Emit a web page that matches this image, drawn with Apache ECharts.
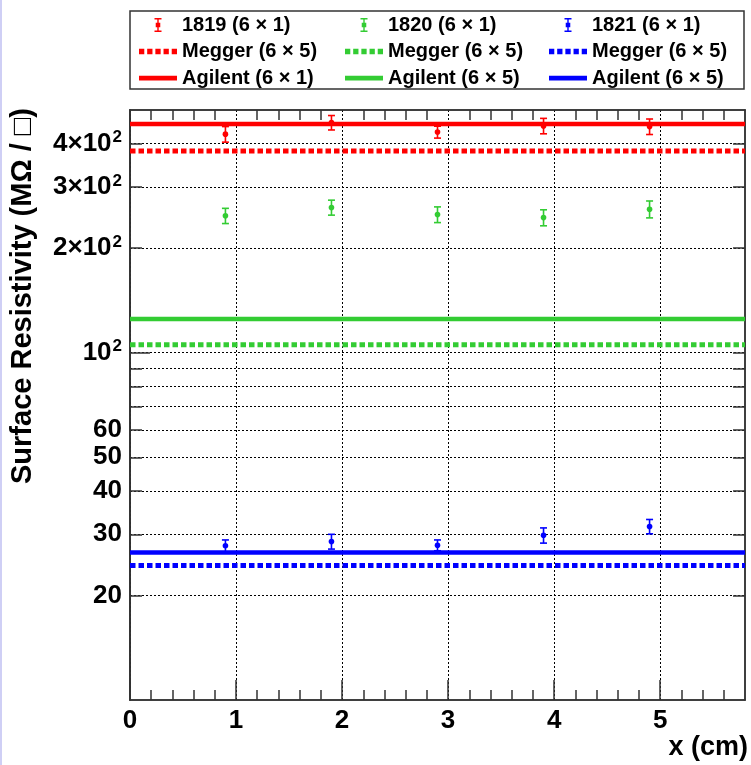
<!DOCTYPE html>
<html>
<head>
<meta charset="utf-8">
<title>Surface Resistivity</title>
<script src="https://cdn.jsdelivr.net/npm/echarts@6/dist/echarts.min.js"></script>
<style>
  html, body { margin: 0; padding: 0; background: #fff; }
  #chart { width: 751px; height: 765px; }
</style>
</head>
<body>
<div id="chart"></div>
<script>
// positions of the measurements (cm)
const positions = [0.9, 1.9, 2.9, 3.9, 4.9];

// sample 1819, 1820, 1821 (6 x 1 electrodes), value and error (MOhm / sq)
const vals1819 = [426, 460, 432, 450, 448];
const errs1819 = [22, 22, 17, 23, 23];
const vals1820 = [248, 262, 250, 245, 259];
const errs1820 = [12.5, 13, 13, 13, 14.5];
const vals1821 = [27.8, 28.6, 27.9, 29.8, 31.6];
const errs1821 = [1.1, 1.4, 1.0, 1.5, 1.5];

// reference levels
const megger = [381, 105.5, 24.4];   // 1819, 1820, 1821
const agilent = [456, 125, 26.6];

// axes
const xRange = [0, 5.8];
const yRange = [10, 500];
const xMajorTicks = [0, 1, 2, 3, 4, 5];
const xMinorTicks = [0.2, 0.4, 0.6, 0.8, 1.2, 1.4, 1.6, 1.8, 2.2, 2.4, 2.6, 2.8,
                     3.2, 3.4, 3.6, 3.8, 4.2, 4.4, 4.6, 4.8, 5.2, 5.4, 5.6];
const yLabelValues = [20, 30, 40, 50, 60, 100, 200, 300, 400];
const yGridValues = [20, 30, 40, 50, 60, 70, 80, 90, 100, 200, 300, 400];
const yLongTicks = [100];

const legendText = {
    p1819: '1819 (6 × 1)', p1820: '1820 (6 × 1)', p1821: '1821 (6 × 1)',
    m1819: 'Megger (6 × 5)', m1820: 'Megger (6 × 5)', m1821: 'Megger (6 × 5)',
    a1819: 'Agilent (6 × 1)', a1820: 'Agilent (6 × 5)', a1821: 'Agilent (6 × 5)'
};

const colors = ['#ff0000', '#33cc33', '#0000ff'];
const FONT = '"Liberation Sans", Arial, Helvetica, sans-serif';

const iconErr = 'path://M0,0H8V1.6H0Z M3.2,0H4.8V16H3.2Z M0,14.4H8V16H0Z M1.4,5.4H6.6V10.6H1.4Z';
const iconDot = 'path://M0,0H5V5H0Z M7.75,0H12.75V5H7.75Z M15.5,0H20.5V5H15.5Z M23.25,0H28.25V5H23.25Z M31,0H36V5H31Z';
const iconLine = 'path://M0,0H36V4.5H0Z';

function errData(vals, errs) {
    return positions.map((x, i) => [x, vals[i], vals[i] - errs[i], vals[i] + errs[i]]);
}

function renderErrorBar(params, api) {
    const x = api.value(0);
    const pMid = api.coord([x, api.value(1)]);
    const pLo = api.coord([x, api.value(2)]);
    const pHi = api.coord([x, api.value(3)]);
    const color = api.visual('color');
    const cap = 3.5;
    const st = { stroke: color, lineWidth: 1.6 };
    return {
        type: 'group',
        children: [
            { type: 'line', shape: { x1: pHi[0], y1: pHi[1], x2: pLo[0], y2: pLo[1] }, style: st },
            { type: 'line', shape: { x1: pHi[0] - cap, y1: pHi[1], x2: pHi[0] + cap, y2: pHi[1] }, style: st },
            { type: 'line', shape: { x1: pLo[0] - cap, y1: pLo[1], x2: pLo[0] + cap, y2: pLo[1] }, style: st },
            { type: 'circle', shape: { cx: pMid[0], cy: pMid[1], r: 2.8 }, style: { fill: color } }
        ]
    };
}

function levelSeries(name, value, color, dotted) {
    return {
        name: name,
        type: 'line',
        symbol: 'none',
        silent: true,
        color: color,
        lineStyle: { color: color, width: dotted ? 5 : 4.5, type: dotted ? [5.5, 3] : 'solid' },
        data: xRange.map(x => [x, value]),
        z: 2
    };
}

function pointSeries(name, vals, errs, color) {
    return {
        name: name,
        type: 'custom',
        renderItem: renderErrorBar,
        itemStyle: { color: color },
        encode: { x: 0, y: 1 },
        data: errData(vals, errs),
        z: 5
    };
}

function legendCol(left, keys) {
    return {
        orient: 'vertical',
        left: left,
        top: 14,
        padding: 0,
        itemWidth: 38,
        itemHeight: 14,
        itemGap: 4.5,
        selectedMode: false,
        itemStyle: { borderWidth: 0 },
        textStyle: { fontFamily: FONT, fontSize: 20, fontWeight: 'bold', color: '#000', lineHeight: 22 },
        formatter: name => legendText[name],
        data: [
            { name: keys[0], icon: iconErr },
            { name: keys[1], icon: iconDot },
            { name: keys[2], icon: iconLine }
        ]
    };
}

// extra y axes that only carry ticks (frame on the right, long tick at 10^2)
function tickOnlyY(position, values, len) {
    return {
        type: 'log', logBase: 10, min: yRange[0], max: yRange[1], position: position,
        axisLine: { show: true, onZero: false, lineStyle: { color: '#333', width: 1.5 } },
        axisTick: { show: true, inside: true, length: len, customValues: values, lineStyle: { color: '#333', width: 1.5 } },
        axisLabel: { show: false }, splitLine: { show: false }
    };
}

function tickOnlyX(position, values, len, showLine) {
    return {
        type: 'value', min: xRange[0], max: xRange[1], position: position,
        axisLine: { show: showLine, onZero: false, lineStyle: { color: '#333', width: 1.5 } },
        axisTick: { inside: true, length: len, customValues: values, lineStyle: { color: '#333', width: 1.5 } },
        axisLabel: { show: false }, splitLine: { show: false }
    };
}

const chart = echarts.init(document.getElementById('chart'), null, { renderer: 'canvas' });

const option = {
    backgroundColor: '#fff',
    animation: false,
    grid: {
        left: 130, right: 6, top: 110, bottom: 65,
        show: true, borderColor: '#333', borderWidth: 1.5,
        outerBoundsMode: 'none'
    },
    legend: [
        legendCol(139, ['p1819', 'm1819', 'a1819']),
        legendCol(345, ['p1820', 'm1820', 'a1820']),
        legendCol(549, ['p1821', 'm1821', 'a1821'])
    ],
    graphic: [
        { type: 'rect', left: 0, top: 0, shape: { x: 0, y: 0, width: 2, height: 765 }, style: { fill: '#cfcff5' } },
        { type: 'rect', shape: { x: 130, y: 11, width: 614, height: 78 }, style: { fill: 'none', stroke: '#333', lineWidth: 1.5 }, z: 10 },
        {
            type: 'text', x: 23, y: 108, rotation: Math.PI / 2,
            style: { text: 'Surface Resistivity (MΩ / □)', font: 'bold 29px ' + FONT, fill: '#000', align: 'right', verticalAlign: 'middle' }
        },
        {
            type: 'text', x: 748, y: 748,
            style: { text: 'x (cm)', font: 'bold 27px ' + FONT, fill: '#000', align: 'right', verticalAlign: 'middle' }
        }
    ],
    xAxis: [
        {
            type: 'value', min: xRange[0], max: xRange[1], interval: 1, position: 'bottom',
            axisLine: { onZero: false, lineStyle: { color: '#333', width: 1.5 } },
            axisTick: { inside: true, length: 20, customValues: xMajorTicks, lineStyle: { color: '#333', width: 1.5 } },
            axisLabel: { customValues: xMajorTicks, margin: 8, fontFamily: FONT, fontSize: 26, fontWeight: 'bold', color: '#000' },
            splitLine: { show: true, lineStyle: { color: '#000', width: 1, type: [2, 2] } }
        },
        tickOnlyX('bottom', xMinorTicks, 10, false),
        tickOnlyX('top', xMinorTicks, 10, true)
    ],
    yAxis: [
        {
            type: 'log', logBase: 10, min: yRange[0], max: yRange[1], position: 'left',
            axisLine: { show: true, onZero: false, lineStyle: { color: '#333', width: 1.5 } },
            axisTick: { show: true, inside: true, length: 12, customValues: yGridValues, lineStyle: { color: '#333', width: 1.5 } },
            axisLabel: {
                customValues: yLabelValues, margin: 8, fontFamily: FONT, fontSize: 26, fontWeight: 'bold', color: '#000',
                formatter: function (v) {
                    if (v >= 100) {
                        const m = Math.round(v / 100);
                        return (m === 1 ? '' : m + '×') + '10{s|2}';
                    }
                    return String(Math.round(v));
                },
                rich: { s: { fontFamily: FONT, fontSize: 17, fontWeight: 'bold', color: '#000', verticalAlign: 'top', padding: [0, 0, 12, 1] } }
            },
            splitLine: { show: true, lineStyle: { color: '#000', width: 1, type: [2, 2] } }
        },
        tickOnlyY('right', yGridValues, 12),
        tickOnlyY('left', yLongTicks, 20)
    ],
    series: [
        levelSeries('m1819', megger[0], colors[0], true),
        levelSeries('a1819', agilent[0], colors[0], false),
        levelSeries('m1820', megger[1], colors[1], true),
        levelSeries('a1820', agilent[1], colors[1], false),
        levelSeries('m1821', megger[2], colors[2], true),
        levelSeries('a1821', agilent[2], colors[2], false),
        pointSeries('p1819', vals1819, errs1819, colors[0]),
        pointSeries('p1820', vals1820, errs1820, colors[1]),
        pointSeries('p1821', vals1821, errs1821, colors[2])
    ]
};

chart.setOption(option);
</script>
</body>
</html>
